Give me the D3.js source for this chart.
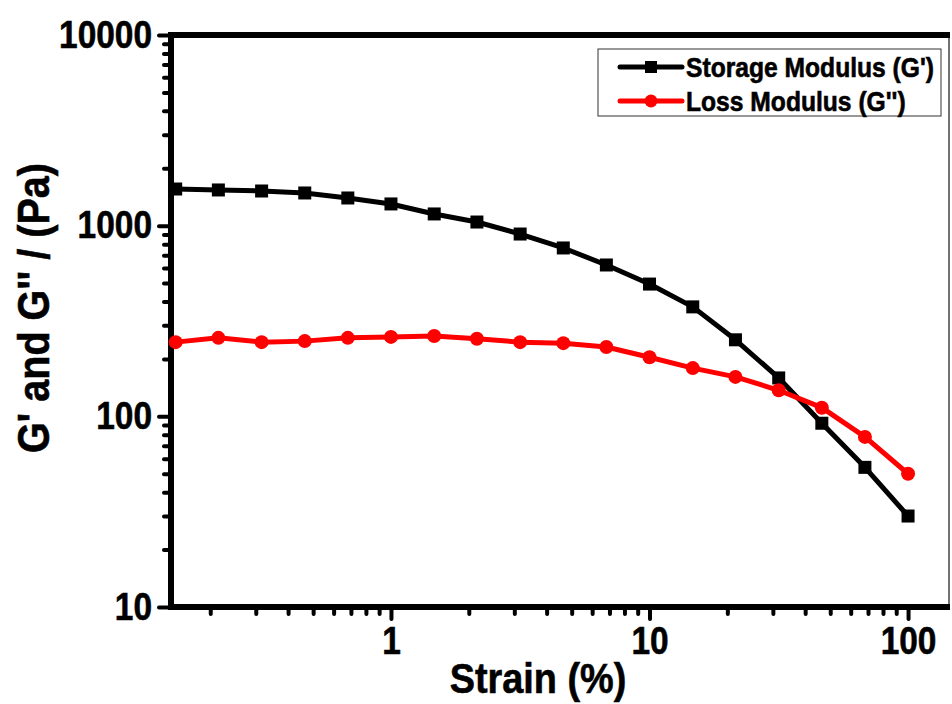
<!DOCTYPE html>
<meta charset="utf-8">
<script src="https://d3js.org/d3.v7.min.js"></script>
<style>
    body { margin: 0; background: #fff; }
    text { font-family: "Liberation Sans", Arial, sans-serif; font-weight: bold; fill: #000; stroke: #000; stroke-width: 0.6px; }
    .axis line { stroke: #000; stroke-width: 4; stroke-linecap: round; }
    .axis path { display: none; }
</style>
<body>
<svg class="chart" width="952" height="704"></svg>
<script>
    ///////////////////////
    // Data
    var strain = [0.147, 0.215, 0.316, 0.464, 0.681, 1, 1.47, 2.15, 3.16, 4.64, 6.81,
                  10, 14.7, 21.5, 31.6, 46.4, 68.1, 100];
    var storageModulus = [1557, 1539, 1520, 1484, 1397, 1300, 1152, 1045, 904, 764, 622,
                          494, 375, 252, 159, 92, 54, 30];
    var lossModulus = [245, 258, 245, 248, 258, 261, 264, 255, 245, 242, 231,
                       204, 179, 161, 137, 111, 78, 50];
    var xMajorTicks = [1, 10, 100];
    var yMajorTicks = [10, 100, 1000, 10000];
    var seriesNames = ["Storage Modulus (G')", "Loss Modulus (G'')"];

    var SX = 0.88; // the original type looks slightly condensed

    var svg = d3.select(".chart");

    ///////////////////////
    // Scales
    var plotLeft = 171, plotRight = 949, plotTop = 35, plotBottom = 607;

    var x = d3.scaleLog()
        .domain([0.141, 144])
        .range([plotLeft, plotRight]);

    var y = d3.scaleLog()
        .domain([10, 10000])
        .range([plotBottom, plotTop]);

    // minor ticks: 2..9 of every decade inside the domain
    function minors(lo, hi) {
        var out = [];
        for (var p = Math.floor(Math.log10(lo)); p <= Math.ceil(Math.log10(hi)); p++) {
            for (var m = 2; m <= 9; m++) {
                var v = m * Math.pow(10, p);
                if (v >= lo && v <= hi) out.push(v);
            }
        }
        return out;
    }

    ///////////////////////
    // Axes
    svg.append("g")
        .attr("class", "axis")
        .attr("transform", "translate(" + plotLeft + ",0)")
        .call(d3.axisLeft(y).tickValues(minors(10, 10000)).tickSize(7).tickFormat(""));

    var yAx = svg.append("g")
        .attr("class", "axis")
        .attr("transform", "translate(" + plotLeft + ",0)")
        .call(d3.axisLeft(y).tickValues(yMajorTicks).tickSize(12).tickFormat(d3.format("d")));

    yAx.selectAll("text")
        .attr("x", 0)
        .attr("transform", "translate(-19,0) scale(" + SX + ",1)")
        .style("font-size", "38px");

    svg.append("g")
        .attr("class", "axis")
        .attr("transform", "translate(0," + plotBottom + ")")
        .call(d3.axisBottom(x).tickValues(minors(0.141, 144)).tickSize(7).tickFormat(""));

    var xAx = svg.append("g")
        .attr("class", "axis")
        .attr("transform", "translate(0," + plotBottom + ")")
        .call(d3.axisBottom(x).tickValues(xMajorTicks).tickSize(12).tickPadding(8).tickFormat(d3.format("d")));

    xAx.selectAll("text")
        .attr("transform", "scale(" + SX + ",1)")
        .style("font-size", "38px");

    ///////////////////////
    // Frame
    svg.append("line")
        .attr("x1", plotRight).attr("x2", plotRight).attr("y1", plotTop).attr("y2", plotBottom)
        .attr("stroke", "#444").attr("stroke-width", 1.5);
    svg.append("line")
        .attr("x1", plotLeft - 3).attr("x2", plotRight + 1).attr("y1", plotTop).attr("y2", plotTop)
        .attr("stroke", "#000").attr("stroke-width", 6);
    svg.append("line")
        .attr("x1", plotLeft - 3).attr("x2", plotRight + 1).attr("y1", plotBottom).attr("y2", plotBottom)
        .attr("stroke", "#000").attr("stroke-width", 6);
    svg.append("line")
        .attr("x1", plotLeft).attr("x2", plotLeft).attr("y1", plotTop - 3).attr("y2", plotBottom + 3)
        .attr("stroke", "#000").attr("stroke-width", 6);

    ///////////////////////
    // Series
    var storage = strain.map(function(s, i) { return { x: s, y: storageModulus[i] }; });
    var loss = strain.map(function(s, i) { return { x: s, y: lossModulus[i] }; });

    var line = d3.line()
        .x(function(d) { return x(d.x); })
        .y(function(d) { return y(d.y); });

    svg.append("path")
        .datum(storage)
        .attr("fill", "none")
        .attr("stroke", "#000")
        .attr("stroke-width", 5)
        .attr("stroke-linejoin", "round")
        .attr("d", line);

    svg.append("g").selectAll("rect")
        .data(storage)
        .enter().append("rect")
        .attr("x", function(d) { return x(d.x) - 6.5; })
        .attr("y", function(d) { return y(d.y) - 6.5; })
        .attr("width", 13)
        .attr("height", 13)
        .attr("fill", "#000");

    svg.append("path")
        .datum(loss)
        .attr("fill", "none")
        .attr("stroke", "#ff0000")
        .attr("stroke-width", 5)
        .attr("stroke-linejoin", "round")
        .attr("d", line);

    svg.append("g").selectAll("circle")
        .data(loss)
        .enter().append("circle")
        .attr("cx", function(d) { return x(d.x); })
        .attr("cy", function(d) { return y(d.y); })
        .attr("r", 7)
        .attr("fill", "#ff0000");

    ///////////////////////
    // Axis titles
    svg.append("text")
        .text("Strain (%)")
        .attr("text-anchor", "middle")
        .attr("transform", "translate(538,693) scale(" + SX + ",1)")
        .style("font-size", "43px");

    svg.append("text")
        .text("G' and G'' / (Pa)")
        .attr("text-anchor", "middle")
        .attr("transform", "translate(49,308) rotate(-90) scale(" + SX + ",1)")
        .style("font-size", "45px");

    ///////////////////////
    // Legend
    var legend = svg.append("g");
    legend.append("rect")
        .attr("x", 598).attr("y", 49)
        .attr("width", 343).attr("height", 67)
        .attr("fill", "#fff")
        .attr("stroke", "#333")
        .attr("stroke-width", 1);

    var colors = ["#000", "#ff0000"];
    seriesNames.forEach(function(name, i) {
        var cy = 67 + i * 34;
        legend.append("line")
            .attr("x1", 620).attr("x2", 682).attr("y1", cy).attr("y2", cy)
            .attr("stroke", colors[i]).attr("stroke-width", 5)
            .attr("stroke-linecap", "round");
        if (i == 0) {
            legend.append("rect")
                .attr("x", 645).attr("y", cy - 6).attr("width", 12).attr("height", 12)
                .attr("fill", colors[i]);
        } else {
            legend.append("circle")
                .attr("cx", 651).attr("cy", cy).attr("r", 6.5)
                .attr("fill", colors[i]);
        }
        legend.append("text")
            .text(name)
            .attr("transform", "translate(686," + (cy + 10) + ") scale(" + SX + ",1)")
            .style("font-size", "28px");
    });
</script>
</body>
